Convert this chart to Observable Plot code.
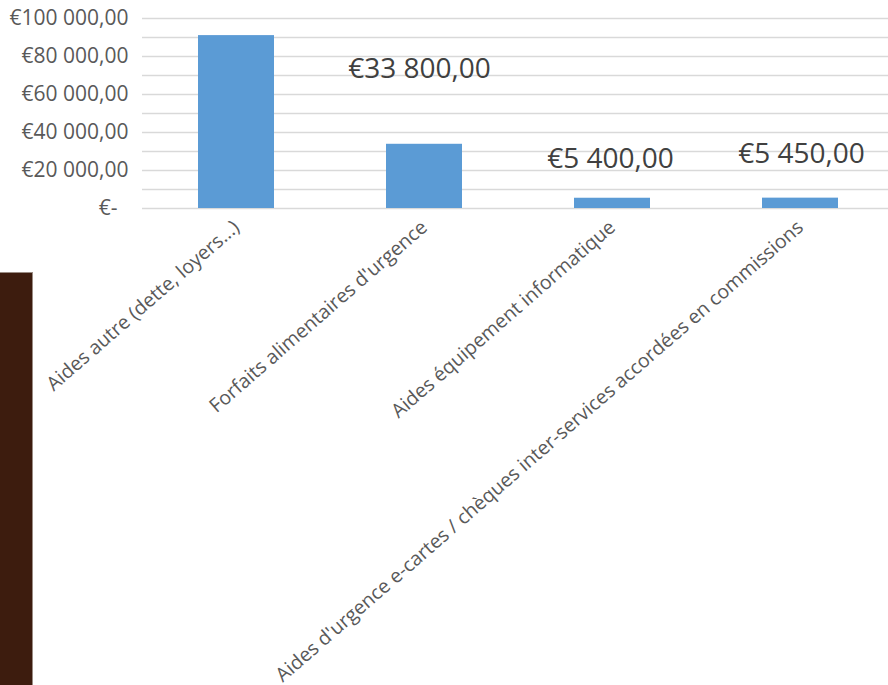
<!DOCTYPE html>
<html>
<head>
<meta charset="utf-8">
<script src="https://cdn.jsdelivr.net/npm/d3@7"></script>
<script src="https://cdn.jsdelivr.net/npm/@observablehq/plot@0.6"></script>
<style>
  html, body { margin: 0; padding: 0; background: #fff; }
  #wrap { position: relative; width: 888px; height: 685px; overflow: hidden; }
  #side { position: absolute; left: 0; top: 272px; width: 32px; height: 413px; background: #3d1c0e; border-top: 1px solid #9a8c84; border-right: 1px solid #9a8c84; }
  svg { font-family: "Open Sans", sans-serif; }
</style>
</head>
<body>
<div id="wrap"><div id="side"></div></div>
<script>
const categories = [
  "Aides autre (dette, loyers...)",
  "Forfaits alimentaires d'urgence",
  "Aides équipement informatique",
  "Aides d'urgence e-cartes / chèques inter-services accordées en commissions"
];
const values = [91000, 33800, 5400, 5450];
const yTickValues = [0, 20000, 40000, 60000, 80000, 100000];
const gridValues = [0, 10000, 20000, 30000, 40000, 50000, 60000, 70000, 80000, 90000, 100000];

const data = categories.map((c, i) => ({cat: c, value: values[i]}));

const loc = d3.formatLocale({decimal: ",", thousands: "\u00a0", grouping: [3], currency: ["€", ""]});
const fmt = loc.format("$,.2f");
const euro = v => v === 0 ? "€-\u00a0\u00a0" : fmt(v);

const chart = Plot.plot({
  width: 888,
  height: 685,
  marginLeft: 142,
  marginRight: 0,
  marginTop: 18,
  marginBottom: 477,
  style: {fontFamily: "'Open Sans', sans-serif", background: "transparent", overflow: "visible"},
  x: {type: "band", domain: categories, range: [142, 894], paddingInner: 0.596, paddingOuter: 0.298},
  y: {domain: [0, 100000], range: [208, 18]},
  marks: [
    Plot.ruleY(gridValues, {stroke: "#d9d9d9", strokeWidth: 1.5}),
    Plot.barY(data, {x: "cat", y: "value", fill: "#5b9bd5"}),
    Plot.axisY(yTickValues, {tickSize: 0, tickPadding: 14, tickFormat: euro, fontSize: 21, fill: "#595959", label: null}),
    Plot.axisX({tickSize: 0, tickRotate: -41, tickPadding: 16, fontSize: 19.5, fill: "#595959", label: null}),
    Plot.text(data.slice(1, 2), {x: "cat", y: "value", text: d => fmt(d.value), dy: -75, dx: -5, fontSize: 28, fill: "#404040"}),
    Plot.text(data.slice(2, 3), {x: "cat", y: "value", text: d => fmt(d.value), dy: -39, dx: -2, fontSize: 28, fill: "#404040"}),
    Plot.text(data.slice(3, 4), {x: "cat", y: "value", text: d => fmt(d.value), dy: -44, dx: 1, fontSize: 28, fill: "#404040"})
  ]
});
chart.style.position = "absolute";
chart.style.left = "0";
chart.style.top = "0";
document.getElementById("wrap").appendChild(chart);
</script>
</body>
</html>
